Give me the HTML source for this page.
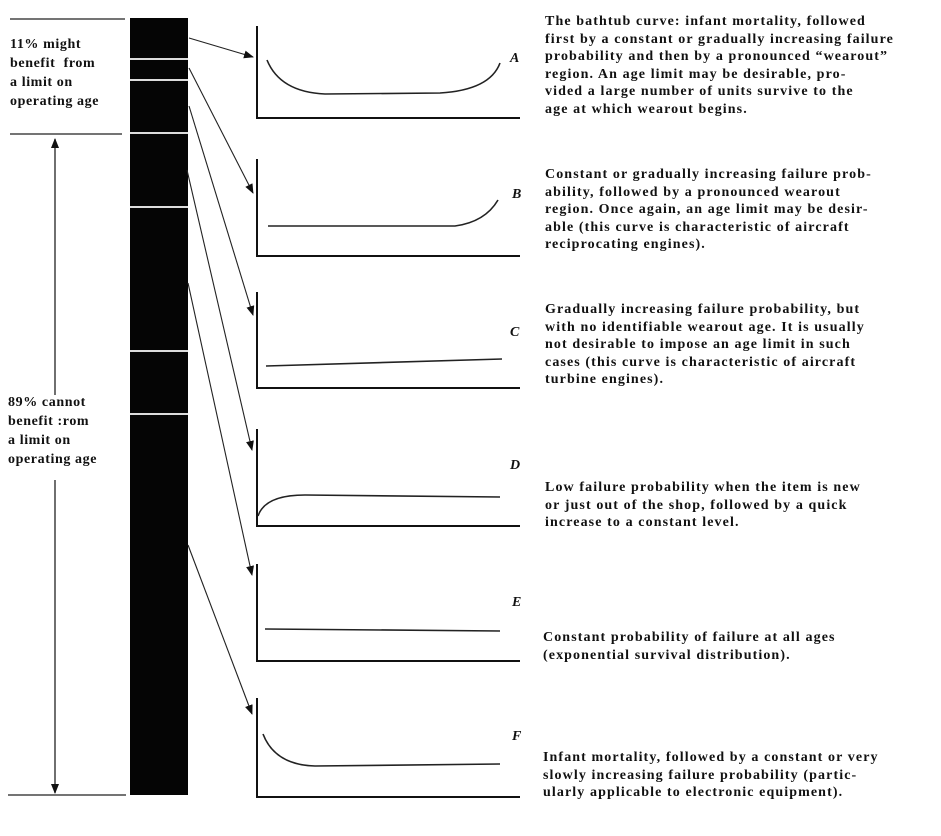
<!DOCTYPE html>
<html><head><style>
body{margin:0;width:941px;height:836px;background:#fff;position:relative;overflow:hidden;font-family:"Liberation Serif",serif;font-weight:bold;color:#111}
.t{position:absolute;font-size:14px;line-height:17.5px;letter-spacing:1.1px;white-space:nowrap}
.l{position:absolute;font-size:14px;line-height:19px;letter-spacing:0.6px;white-space:nowrap}
</style></head><body>
<svg width="941" height="836" style="position:absolute;left:0;top:0">
<defs><marker id="a" markerWidth="10" markerHeight="8" refX="9" refY="4" orient="auto" markerUnits="userSpaceOnUse"><path d="M0,0 L10,4 L0,8z" fill="#111"/></marker></defs>
<g stroke="#222" stroke-width="1.3" fill="none">
<line x1="10" y1="19" x2="125" y2="19"/>
<line x1="10" y1="134" x2="122" y2="134"/>
<line x1="8" y1="795" x2="126" y2="795"/>
<line x1="55" y1="395" x2="55" y2="139" marker-end="url(#a)"/>
<line x1="55" y1="480" x2="55" y2="793" marker-end="url(#a)"/>
</g>
<rect x="130" y="18" width="58" height="777" fill="#050505"/>
<g stroke="#ddd" stroke-width="2">
<line x1="130" y1="59" x2="188" y2="59"/><line x1="130" y1="80" x2="188" y2="80"/>
<line x1="130" y1="133" x2="188" y2="133"/><line x1="130" y1="207" x2="188" y2="207"/>
<line x1="130" y1="351" x2="188" y2="351"/><line x1="130" y1="414" x2="188" y2="414"/>
</g>
<g stroke="#222" stroke-width="1.1" fill="none">
<line x1="189" y1="38" x2="253" y2="57" marker-end="url(#a)"/>
<line x1="189" y1="68" x2="253" y2="193" marker-end="url(#a)"/>
<line x1="189" y1="106" x2="253" y2="315" marker-end="url(#a)"/>
<line x1="187" y1="170" x2="252" y2="450" marker-end="url(#a)"/>
<line x1="188" y1="283" x2="252" y2="575" marker-end="url(#a)"/>
<line x1="188" y1="545" x2="252" y2="714" marker-end="url(#a)"/>
</g>
<g stroke="#111" stroke-width="2" fill="none">
<path d="M257 26 V118 H520"/><path d="M257 159 V256 H520"/><path d="M257 292 V388 H520"/>
<path d="M257 429 V526 H520"/><path d="M257 564 V661 H520"/><path d="M257 698 V797 H520"/>
</g>
<g stroke="#222" stroke-width="1.6" fill="none">
<path d="M267 60 Q280 92 325 94 L440 93 Q490 90 500 63"/>
<path d="M268 226 L455 226 Q485 222 498 200"/>
<path d="M266 366 L502 359"/>
<path d="M258 516 Q265 495 305 495 L500 497"/>
<path d="M265 629 L500 631"/>
<path d="M263 734 Q275 765 315 766 L500 764"/>
</g>
</svg>
<div class="l" style="left:10px;top:35px">11% might<br>benefit &nbsp;from<br>a limit on<br>operating age</div>
<div class="l" style="left:8px;top:393px">89% cannot<br>benefit :rom<br>a limit on<br>operating age</div>
<div class="t" style="left:510px;top:50px;font-style:italic">A</div>
<div class="t" style="left:512px;top:186px;font-style:italic">B</div>
<div class="t" style="left:510px;top:324px;font-style:italic">C</div>
<div class="t" style="left:510px;top:457px;font-style:italic">D</div>
<div class="t" style="left:512px;top:594px;font-style:italic">E</div>
<div class="t" style="left:512px;top:728px;font-style:italic">F</div>
<div class="t" style="left:545px;top:13px">The bathtub curve: infant mortality, followed<br>first by a constant or gradually increasing failure<br>probability and then by a pronounced “wearout”<br>region. An age limit may be desirable, pro-<br>vided a large number of units survive to the<br>age at which wearout begins.</div>
<div class="t" style="left:545px;top:166px">Constant or gradually increasing failure prob-<br>ability, followed by a pronounced wearout<br>region. Once again, an age limit may be desir-<br>able (this curve is characteristic of aircraft<br>reciprocating engines).</div>
<div class="t" style="left:545px;top:301px">Gradually increasing failure probability, but<br>with no identifiable wearout age. It is usually<br>not desirable to impose an age limit in such<br>cases (this curve is characteristic of aircraft<br>turbine engines).</div>
<div class="t" style="left:545px;top:479px">Low failure probability when the item is new<br>or just out of the shop, followed by a quick<br>increase to a constant level.</div>
<div class="t" style="left:543px;top:629px">Constant probability of failure at all ages<br>(exponential survival distribution).</div>
<div class="t" style="left:543px;top:749px">Infant mortality, followed by a constant or very<br>slowly increasing failure probability (partic-<br>ularly applicable to electronic equipment).</div>
</body></html>
